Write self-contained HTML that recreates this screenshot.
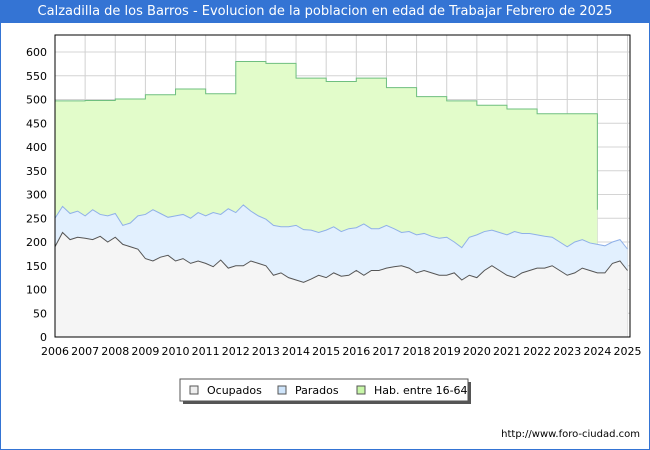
<!DOCTYPE html>
<html><head><meta charset="utf-8"><style>
body{margin:0;width:650px;height:450px;overflow:hidden;background:#fff;font-family:"DejaVu Sans","Liberation Sans",sans-serif;}
#wrap{position:absolute;left:0;top:0;width:648px;height:448px;border:1px solid #3474d4;}
#title{position:absolute;left:0;top:0;width:650px;height:23px;background:#3474d4;color:#fff;font-size:13px;line-height:23px;text-align:center;}
</style></head><body>
<div id="wrap"></div>
<div id="title">Calzadilla de los Barros - Evolucion de la poblacion en edad de Trabajar Febrero de 2025</div>
<svg id="chart" width="650" height="450" style="position:absolute;left:0;top:0"></svg>
<script>
const years=[2006,2007,2008,2009,2010,2011,2012,2013,2014,2015,2016,2017,2018,2019,2020,2021,2022,2023,2024,2025];
const yTicks=[0,50,100,150,200,250,300,350,400,450,500,550,600];
const habYears=[2006,2007,2008,2009,2010,2011,2012,2013,2014,2015,2016,2017,2018,2019,2020,2021,2022,2023];
const habValues=[497,498,501,510,522,512,580,576,545,538,545,525,506,497,488,480,470,470];
const habEndValue=268;
const paradosTop=[250,275,260,265,255,268,258,255,260,235,240,255,258,268,260,252,255,258,250,262,255,262,258,270,262,278,265,255,248,235,232,232,235,226,225,220,225,232,222,228,230,238,228,228,235,228,220,222,215,218,212,208,210,200,188,210,215,222,225,220,215,222,218,218,215,212,210,200,190,200,205,198,195,192,200,205,185];
const ocupados=[190,220,205,210,208,205,212,200,210,195,190,185,165,160,168,172,160,165,155,160,155,148,162,145,150,150,160,155,150,130,135,125,120,115,122,130,125,135,128,130,140,130,140,140,145,148,150,145,135,140,135,130,130,135,120,130,125,140,150,140,130,125,135,140,145,145,150,140,130,135,145,140,135,135,155,160,140];
const NS='http://www.w3.org/2000/svg';
const svg=document.getElementById('chart');
const X0=55,X1=627.5,Y0=337,Y1=52;
const sx=t=>X0+(t-2006)/(2025-2006)*(X1-X0);
const sy=v=>Y0-v/600*(Y0-Y1);
function mk(tag,attrs,name){const e=document.createElementNS(NS,tag);for(const k in attrs)e.setAttribute(k,attrs[k]);


svg.appendChild(e);return e;}
mk('rect',{x:55,y:35,width:575,height:302,fill:'#fff'},'plot-background');
// grid
yTicks.forEach(v=>{mk('line',{x1:55,x2:630,y1:sy(v),y2:sy(v),stroke:'#d4d4d4'},'y-grid-line');
const t=mk('text',{x:47,y:sy(v)+4,'text-anchor':'end','font-size':11,fill:'#000'},'y-tick-label');t.textContent=v;});
years.forEach(y=>{mk('line',{x1:sx(y),x2:sx(y),y1:35,y2:337,stroke:'#d0d0d0'},'x-grid-line');
const t=mk('text',{x:sx(y),y:355,'text-anchor':'middle','font-size':11,fill:'#000'},'x-tick-label');t.textContent=y;});
// hab area
let hp='M'+sx(2006)+','+Y0;
habYears.forEach((y,i)=>{hp+=' L'+sx(y)+','+sy(habValues[i])+' L'+sx(y+1)+','+sy(habValues[i]);});
hp+=' L'+sx(2024)+','+sy(habEndValue)+' L'+sx(2024)+','+Y0+' Z';
mk('path',{d:hp,fill:'#e2fcca',stroke:'none'},'hab-area');
let hl='M'+sx(2006)+','+sy(habValues[0]);
habYears.forEach((y,i)=>{hl+=' L'+sx(y)+','+sy(habValues[i])+' L'+sx(y+1)+','+sy(habValues[i]);});
hl+=' L'+sx(2024)+','+sy(habEndValue);
mk('path',{d:hl,fill:'none',stroke:'#6fbf7f','stroke-width':1},'hab-line');
const tq=i=>2006+i*0.25;
function series(arr,fill,stroke,name){
let d='M'+sx(2006)+','+Y0;arr.forEach((v,i)=>d+=' L'+sx(tq(i))+','+sy(v));d+=' L'+sx(tq(arr.length-1))+','+Y0+' Z';
mk('path',{d:d,fill:fill,stroke:'none'},name+'-area');
let l='';arr.forEach((v,i)=>l+=(i?' L':'M')+sx(tq(i))+','+sy(v));
mk('path',{d:l,fill:'none',stroke:stroke,'stroke-width':1},name+'-line');}
series(paradosTop,'#e2f0fe','#8fb0e8','parados');
series(ocupados,'#f5f5f5','#555','ocupados');
mk('rect',{x:55,y:35,width:575,height:302,fill:'none',stroke:'#000','stroke-width':1},'plot-border');
// legend
mk('rect',{x:183,y:382,width:288,height:22,fill:'#555'},'legend-shadow');
mk('rect',{x:180,y:379,width:288,height:22,fill:'#fff',stroke:'#555'},'legend-box');
const lg=[['Ocupados','#eeeeee',190],['Parados','#cfe5fb',278],['Hab. entre 16-64','#c8f7a8',357]];
lg.forEach(e=>{mk('rect',{x:e[2],y:386,width:8,height:8,fill:e[1],stroke:'#555'},'legend-swatch');
const t=mk('text',{x:e[2]+17,y:394,'font-size':11,fill:'#000'},'legend-entry');t.textContent=e[0];});
const u=mk('text',{x:640,y:437,'text-anchor':'end','font-size':10,fill:'#000'},'source-url');u.textContent='http://www.foro-ciudad.com';
</script>
</body></html>
